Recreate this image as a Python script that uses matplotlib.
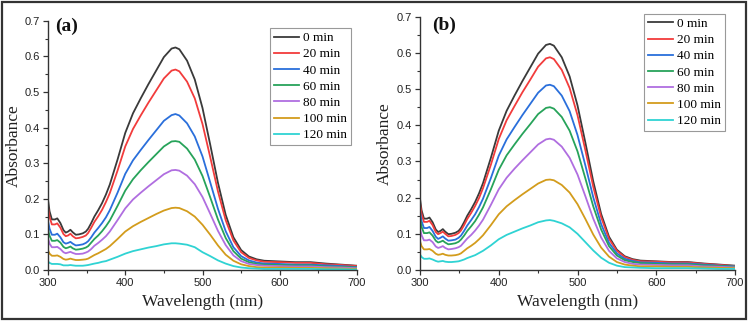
import matplotlib
matplotlib.use("Agg")
import matplotlib.pyplot as plt
from matplotlib.patches import Rectangle
from matplotlib.ticker import MultipleLocator

# wavelength grid (nm)
wavelength = [300, 302, 305, 309, 312, 316, 320, 323, 326, 329, 332, 336, 340, 345, 349,
              352, 356, 360, 365, 370, 375, 380, 390, 400, 410, 420, 430, 440, 450, 460,
              465, 470, 480, 490, 500, 510, 520, 530, 540, 550, 560, 570, 580, 600, 620,
              640, 660, 680, 700]

labels = ["0 min", "20 min", "40 min", "60 min", "80 min", "100 min", "120 min"]
colors = ["#3a3a3a", "#f23c3c", "#2a6fdb", "#27a35a", "#b06ee0", "#d39c1c", "#2fd3d3"]

# panel (a)
a_0 = [.197, .165, .142, .142, .145, .132, .112, .105, .108, .113, .106, .099, .100, .103, .108,
       .116, .132, .150, .168, .188, .212, .240, .310, .385, .440, .482, .522, .560, .598, .622,
       .625, .620, .588, .535, .455, .352, .245, .155, .092, .056, .038, .030, .026, .024, .022,
       .022, .018, .015, .012]
a_20 = [.177, .149, .128, .128, .131, .119, .101, .095, .097, .102, .095, .089, .090, .093, .097,
        .104, .119, .135, .151, .169, .191, .216, .279, .347, .396, .434, .470, .504, .538, .560,
        .563, .558, .529, .482, .410, .317, .221, .140, .083, .050, .034, .027, .023, .022, .020,
        .020, .016, .014, .011]
a_40 = [.138, .116, .099, .099, .102, .092, .078, .074, .076, .079, .074, .069, .070, .072, .076,
        .081, .092, .105, .118, .132, .148, .168, .217, .270, .308, .337, .365, .392, .419, .435,
        .438, .434, .412, .375, .319, .246, .172, .109, .064, .039, .027, .021, .018, .017, .015,
        .015, .013, .011, .008]
a_60 = [.114, .096, .082, .082, .084, .077, .065, .061, .063, .066, .061, .057, .058, .060, .063,
        .067, .077, .087, .097, .109, .123, .139, .180, .223, .255, .280, .303, .325, .347, .361,
        .362, .360, .341, .310, .264, .204, .142, .090, .053, .032, .022, .017, .015, .014, .013,
        .013, .010, .009, .007]
a_80 = [.089, .074, .064, .064, .065, .059, .050, .047, .049, .051, .048, .045, .045, .046, .049,
        .052, .059, .068, .076, .085, .095, .108, .140, .173, .198, .217, .235, .252, .269, .280,
        .281, .279, .265, .241, .205, .158, .110, .070, .041, .025, .017, .014, .012, .011, .010,
        .010, .008, .007, .005]
a_100 = [.055, .046, .040, .040, .041, .037, .031, .029, .030, .032, .030, .028, .028, .029, .030,
         .032, .037, .042, .047, .053, .059, .067, .087, .108, .123, .135, .146, .157, .167, .174,
         .175, .174, .165, .150, .127, .099, .069, .043, .026, .016, .011, .008, .007, .007, .006,
         .006, .005, .004, .003]
a_120 = [.024, .020, .017, .017, .017, .016, .013, .013, .013, .014, .013, .012, .012, .012, .013,
         .014, .016, .018, .020, .023, .025, .029, .037, .046, .053, .058, .063, .067, .072, .075,
         .075, .074, .071, .064, .050, .039, .027, .018, .011, .007, .005, .004, .003, .003, .003,
         .003, .002, .002, .001]

# panel (b)
b_0 = a_0
b_20 = [.185, .155, .133, .133, .136, .124, .105, .099, .102, .106, .100, .093, .094, .097, .102,
        .109, .124, .141, .158, .177, .199, .226, .291, .362, .414, .453, .491, .526, .562, .585,
        .588, .583, .553, .503, .428, .331, .230, .146, .086, .053, .036, .028, .024, .023, .021,
        .021, .017, .014, .011]
b_40 = [.162, .135, .116, .116, .119, .108, .092, .086, .089, .093, .087, .081, .082, .084, .089,
        .095, .108, .123, .138, .154, .174, .197, .254, .316, .361, .395, .428, .459, .490, .510,
        .512, .508, .482, .439, .373, .289, .201, .127, .075, .046, .031, .025, .021, .020, .018,
        .018, .015, .012, .010]
b_60 = [.142, .119, .102, .102, .104, .095, .081, .076, .078, .081, .076, .071, .072, .074, .078,
        .084, .095, .108, .121, .135, .153, .173, .223, .277, .317, .347, .376, .403, .431, .448,
        .450, .446, .423, .385, .328, .253, .176, .112, .066, .040, .027, .022, .019, .017, .016,
        .016, .013, .011, .009]
b_80 = [.114, .096, .082, .082, .084, .077, .065, .061, .063, .066, .061, .057, .058, .060, .063,
        .067, .077, .087, .097, .109, .123, .139, .180, .223, .255, .280, .303, .325, .347, .361,
        .363, .360, .341, .310, .264, .204, .142, .090, .053, .032, .022, .017, .015, .014, .013,
        .013, .010, .009, .007]
b_100 = [.079, .066, .057, .057, .058, .053, .045, .042, .043, .045, .042, .040, .040, .041, .043,
         .046, .053, .060, .067, .075, .085, .096, .124, .154, .176, .193, .209, .224, .239, .249,
         .250, .248, .235, .214, .182, .141, .098, .062, .037, .022, .015, .012, .010, .010, .009,
         .009, .007, .006, .005]
b_120 = [.043, .036, .031, .031, .032, .029, .025, .023, .024, .025, .023, .022, .022, .023, .024,
         .026, .029, .033, .037, .041, .047, .053, .068, .085, .097, .106, .115, .123, .132, .137,
         .138, .136, .129, .118, .100, .077, .054, .034, .020, .012, .008, .007, .006, .005, .005,
         .005, .004, .003, .003]

panels = [
    ("(a)", [a_0, a_20, a_40, a_60, a_80, a_100, a_120]),
    ("(b)", [b_0, b_20, b_40, b_60, b_80, b_100, b_120]),
]

serif = "Liberation Serif"
sans = "Liberation Sans"

fig = plt.figure(figsize=(7.5, 3.22), dpi=100)
axes_rects = [[0.064, 0.1615, 0.412, 0.774], [0.560, 0.1615, 0.420, 0.7865]]
legend_anchor = [(0.468, 0.913), (0.966, 0.957)]
tag_pos = [(0.073, 0.905), (0.576, 0.907)]

for (tag, series), rect, anchor, tpos in zip(panels, axes_rects, legend_anchor, tag_pos):
    ax = fig.add_axes(rect)
    for ys, lab, col in zip(series, labels, colors):
        ax.plot(wavelength, ys, color=col, lw=1.3, label=lab)
    ax.set_xlim(300, 700)
    ax.set_ylim(0, 0.7)
    ax.xaxis.set_major_locator(MultipleLocator(100))
    ax.xaxis.set_minor_locator(MultipleLocator(50))
    ax.yaxis.set_major_locator(MultipleLocator(0.1))
    ax.yaxis.set_minor_locator(MultipleLocator(0.05))
    ax.yaxis.set_major_formatter(matplotlib.ticker.FormatStrFormatter("%.1f"))
    ax.spines["top"].set_visible(False)
    ax.spines["right"].set_visible(False)
    for s in ("left", "bottom"):
        ax.spines[s].set_color("#333333")
        ax.spines[s].set_linewidth(1.0)
    ax.tick_params(which="major", direction="out", length=3.5, width=0.9, color="#333333",
                   labelsize=8, labelcolor="#222222", pad=2)
    ax.tick_params(which="minor", direction="out", length=2, width=0.8, color="#333333")
    for t in ax.get_xticklabels() + ax.get_yticklabels():
        t.set_fontfamily(sans)
    ax.set_xlabel("Wavelength (nm)", fontfamily=serif, fontsize=12.5, color="#222222")
    ax.set_ylabel("Absorbance", fontfamily=serif, fontsize=12.5, color="#222222")
    ax.xaxis.set_label_coords(0.5, -0.095)
    ax.yaxis.set_label_coords(-0.085, 0.5)
    leg = ax.legend(loc="upper right", bbox_to_anchor=anchor, bbox_transform=fig.transFigure,
                    prop={"family": serif, "size": 9.5}, frameon=True, fancybox=False,
                    edgecolor="#999999", framealpha=1, borderpad=0.3, labelspacing=0.3,
                    handlelength=1.9, handletextpad=0.3, borderaxespad=0)
    leg.get_frame().set_linewidth(0.8)
    fig.text(tpos[0], tpos[1], tag, fontfamily=serif, fontweight="bold", fontsize=14,
             color="#111111")

fig.patches.append(Rectangle((0.003, 0.009), 0.991, 0.985, transform=fig.transFigure,
                             fill=False, edgecolor="#333333", linewidth=1.6))

fig.savefig("out.png", dpi=100)
